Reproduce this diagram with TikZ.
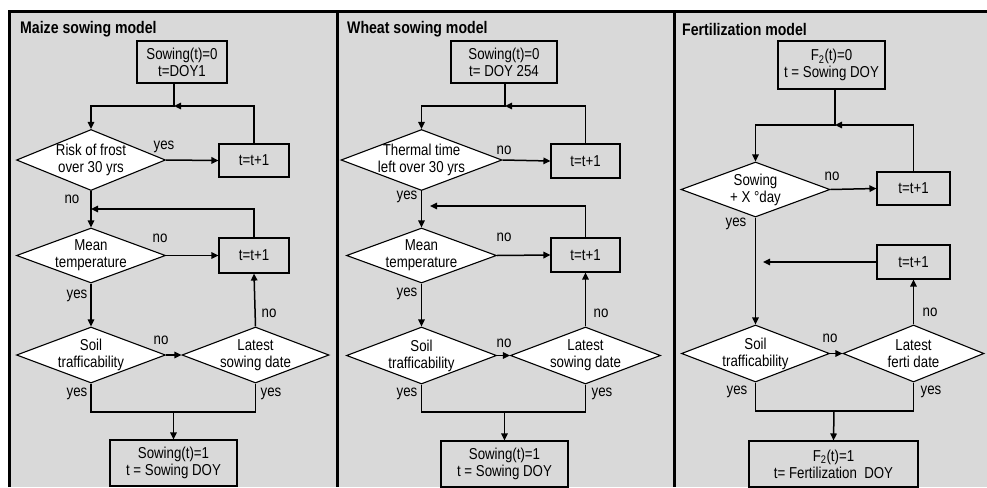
\documentclass[tikz,border=0pt]{standalone}
\usepackage{fontspec}
\setmainfont[FakeStretch=0.84]{Liberation Sans}
\usetikzlibrary{shapes.geometric,arrows.meta,calc}
\definecolor{bg}{HTML}{D9D9D9}
\tikzset{
  txt/.style={font=\fontsize{15.8}{17}\selectfont, align=center, inner sep=0pt},
  boxn/.style={draw=black, line width=1.1pt, fill=bg, inner sep=0pt, txt},
  dia/.style={shape=diamond, draw=black, line width=1.1pt, fill=white, inner sep=0pt},
  arr/.style={line width=1.5pt, -{Triangle[length=7pt,width=6.5pt]}},
  ln/.style={line width=1.5pt},
  lab/.style={txt},
  ttl/.style={font=\fontsize{16.8}{18}\selectfont\bfseries, anchor=west, inner sep=0pt},
}
\begin{document}
\begin{tikzpicture}[x=1pt,y=-1pt]
\useasboundingbox (0,0) rectangle (987,487);
\fill[white] (0,0) rectangle (987,487);
\fill[bg] (9,12) rectangle (987,487);
\draw[line width=3pt] (9,487) -- (9,12) -- (987,12);
\draw[line width=3pt] (337.5,12) -- (337.5,487);
\draw[line width=3pt] (674,12) -- (674,487);

% ---------------- Panel 1: Maize ----------------
\node[ttl] (t1) at (20,29) {Maize sowing model};
\node[boxn, minimum width=90, minimum height=42] (s1) at (182,62) {Sowing(t)=0\\t=DOY1};
\coordinate (j1a) at (174,106);
\node[dia, minimum width=149, minimum height=61, label={[txt]center:Risk of frost\\over 30 yrs}] (d11) at (91,160) {};
\node[boxn, minimum width=70, minimum height=33] (b11) at (254,160.5) {t=t+1};
\draw[arr] (j1a |- s1.south) -- (j1a) -| (d11.north);
\draw[arr] (b11.north) |- (j1a);
\draw[arr] (d11.east) -- (b11.west);
\node[lab] (l11) at (164,147) {yes};
\node[lab] (l12) at (72,199) {no};
\coordinate (j1b) at (91,209);
\node[dia, minimum width=149, minimum height=55, label={[txt]center:Mean\\temperature}] (d12) at (91,255.5) {};
\node[boxn, minimum width=70, minimum height=35] (b12) at (254,255.5) {t=t+1};
\draw[arr] (d11.south) -- (d12.north);
\draw[arr] (b12.north) |- (j1b);
\draw[arr] (d12.east) -- (b12.west);
\node[lab] (l13) at (160,238) {no};
\node[lab] (l14) at (77,296) {yes};
\node[dia, minimum width=149, minimum height=56, label={[txt]center:Soil\\trafficability}] (d13) at (91,355) {};
\node[dia, minimum width=147, minimum height=56, label={[txt]center:Latest\\sowing date}] (d14) at (255.5,355) {};
\draw[arr] (d12.south) -- (d13.north);
\draw[arr] (d13.east) -- (d14.west);
\draw[arr] (d14.north) -- (b12.south);
\node[lab] (l15) at (161,340) {no};
\node[lab] (l16) at (269,313) {no};
\node[lab] (l17) at (77,394) {yes};
\node[lab] (l18) at (271,394) {yes};
\node[boxn, minimum width=127, minimum height=46] (e1) at (173.5,463) {Sowing(t)=1\\t = Sowing DOY};
\coordinate (j1c) at (173.5,412);
\draw[ln] (d13.south) |- (j1c);
\draw[ln] (d14.south) |- (j1c);
\draw[arr] (j1c) -- (e1.north);

% ---------------- Panel 2: Wheat ----------------
\node[ttl] (t2) at (347,29) {Wheat sowing model};
\node[boxn, minimum width=106, minimum height=42] (s2) at (504,62) {Sowing(t)=0\\t= DOY 254};
\coordinate (j2a) at (505,106);
\node[dia, minimum width=161, minimum height=61, label={[txt]center:Thermal time\\left over 30 yrs}] (d21) at (421.5,160) {};
\node[boxn, minimum width=69, minimum height=34] (b21) at (585.5,161) {t=t+1};
\draw[arr] (j2a |- s2.south) -- (j2a) -| (d21.north);
\draw[arr] (b21.north) |- (j2a);
\draw[arr] (d21.east) -- (b21.west);
\node[lab] (l21) at (504,150) {no};
\node[lab] (l22) at (407,197) {yes};
\coordinate (j2b) at (430,206);
\node[dia, minimum width=150, minimum height=55, label={[txt]center:Mean\\temperature}] (d22) at (421.5,255.5) {};
\node[boxn, minimum width=69, minimum height=34] (b22) at (585.5,255) {t=t+1};
\draw[arr] (d21.south) -- (d22.north);
\draw[arr] (b22.north) |- (j2b);
\draw[arr] (d22.east) -- (b22.west);
\node[lab] (l23) at (504,237) {no};
\node[lab] (l24) at (407,294) {yes};
\node[dia, minimum width=150, minimum height=57, label={[txt]center:Soil\\trafficability}] (d23) at (421.5,355.5) {};
\node[dia, minimum width=150, minimum height=57, label={[txt]center:Latest\\sowing date}] (d24) at (585.5,355.5) {};
\draw[arr] (d22.south) -- (d23.north);
\draw[arr] (d23.east) -- (d24.west);
\draw[arr] (d24.north) -- (b22.south);
\node[lab] (l25) at (504,343) {no};
\node[lab] (l26) at (601,313) {no};
\node[lab] (l27) at (407,394) {yes};
\node[lab] (l28) at (602,394) {yes};
\node[boxn, minimum width=127, minimum height=46] (e2) at (504.5,464) {Sowing(t)=1\\t = Sowing DOY};
\coordinate (j2c) at (504.5,412);
\draw[ln] (d23.south) |- (j2c);
\draw[ln] (d24.south) |- (j2c);
\draw[arr] (j2c) -- (e2.north);

% ---------------- Panel 3: Fertilization ----------------
\node[ttl] (t3) at (682,29) {Fertilization model};
\node[boxn, minimum width=107, minimum height=48] (s3) at (831.5,65) {F\textsubscript{2}(t)=0\\t = Sowing DOY};
\coordinate (j3a) at (835,125);
\node[dia, minimum width=149, minimum height=55, label={[txt]center:Sowing\\+ X °day}] (d31) at (755.5,189.5) {};
\node[boxn, minimum width=73, minimum height=33] (b31) at (913.5,188.5) {t=t+1};
\draw[arr] (j3a |- s3.south) -- (j3a) -| (d31.north);
\draw[arr] (b31.north) |- (j3a);
\draw[arr] (d31.east) -- (b31.west);
\node[lab] (l31) at (832,176) {no};
\node[lab] (l32) at (736,224) {yes};
\node[boxn, minimum width=73, minimum height=34] (b32) at (913.5,262) {t=t+1};
\coordinate (j3b) at (763,262);
\draw[arr] (b32.west) -- (j3b);
\node[dia, minimum width=148, minimum height=57, label={[txt]center:Soil\\trafficability}] (d33) at (755.5,353.5) {};
\node[dia, minimum width=141, minimum height=57, label={[txt]center:Latest\\ferti date}] (d34) at (913.5,353.5) {};
\draw[arr] (d31.south) -- (d33.north);
\draw[arr] (d33.east) -- (d34.west);
\draw[arr] (d34.north) -- (b32.south);
\node[lab] (l33) at (830,338) {no};
\node[lab] (l34) at (930,312) {no};
\node[lab] (l35) at (737,392) {yes};
\node[lab] (l36) at (931,392) {yes};
\node[boxn, minimum width=169, minimum height=46] (e3) at (833.5,464) {F\textsubscript{2}(t)=1\\t= Fertilization\ \ DOY};
\coordinate (j3c) at (834,411);
\draw[ln] (d33.south) |- (j3c);
\draw[ln] (d34.south) |- (j3c);
\draw[arr] (j3c) -- (e3.north);
\end{tikzpicture}
\end{document}
